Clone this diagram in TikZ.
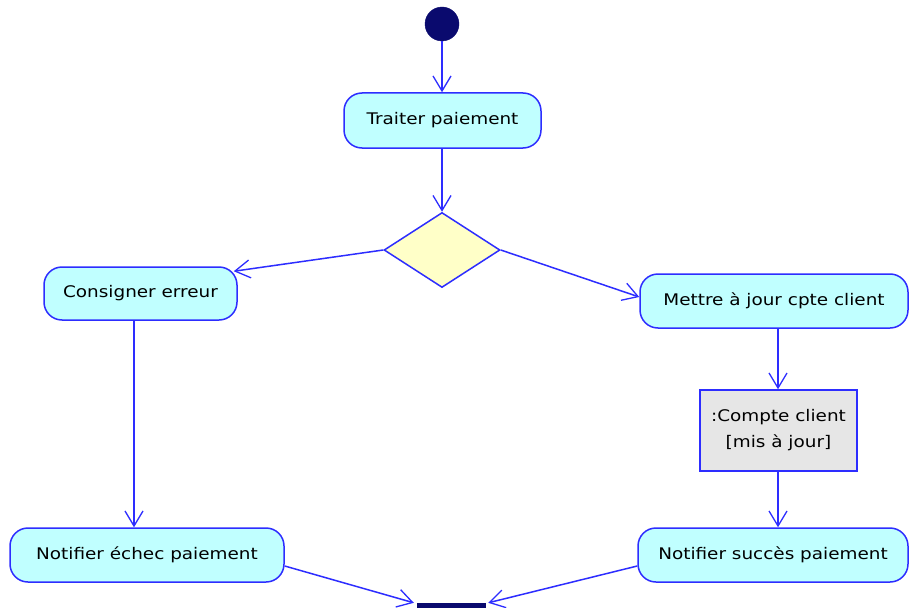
\documentclass[tikz,border=0pt]{standalone}
\usepackage{fontspec}
\setmainfont{DejaVu Sans}[FakeStretch=1.15]
\usetikzlibrary{shapes.geometric,arrows.meta}
\definecolor{lineblue}{RGB}{45,45,255}
\definecolor{cyanfill}{RGB}{192,255,255}
\definecolor{yellowfill}{RGB}{255,255,200}
\definecolor{grayfill}{RGB}{230,230,230}
\definecolor{navy}{RGB}{10,10,110}
\tikzset{
  activity/.style={draw=lineblue, fill=cyanfill, line width=1.5pt, rounded corners=18pt,
    inner sep=0pt, font=\fontsize{16}{19}\selectfont, text=black},
  objbox/.style={draw=lineblue, fill=grayfill, line width=1.5pt, inner sep=0pt,
    align=center, font=\fontsize{16}{19}\selectfont, text=black},
  decision/.style={diamond, draw=lineblue, fill=yellowfill, line width=1.5pt, inner sep=0pt,
    minimum width=116pt, minimum height=75pt},
  initial/.style={circle, fill=navy, draw=navy, inner sep=0pt, minimum size=34pt},
  joinbar/.style={fill=navy, draw=navy, inner sep=0pt, minimum width=68pt, minimum height=9pt},
  flow/.style={draw=lineblue, line width=1.5pt,
    -{Straight Barb[length=15pt,width=18pt,line width=1.3pt]}}
}
\begin{document}
\begin{tikzpicture}[x=1pt,y=-1pt]
\useasboundingbox (0,0) rectangle (909,607);
\clip (0,0) rectangle (909,607);
\fill[white] (0,0) rectangle (909,607);

\node[initial] (init) at (442,24) {};
\node[activity, minimum width=197pt, minimum height=55pt] (trait) at (442.5,120.5) {Traiter paiement};
\node[decision] (dia) at (442,250) {};
\node[activity, minimum width=193pt, minimum height=53pt] (cons) at (140.5,293.5) {Consigner erreur};
\node[activity, minimum width=268pt, minimum height=54pt] (mett) at (774,301) {Mettre à jour cpte client};
\node[objbox, minimum width=157pt, minimum height=81pt] (compte) at (778.5,430.5) {:Compte client\\[7pt][mis à jour]};
\node[activity, minimum width=274pt, minimum height=54pt] (ne) at (147,555) {Notifier échec paiement};
\node[activity, minimum width=270pt, minimum height=54pt] (ns) at (773,555) {Notifier succès paiement};
\node[joinbar] (bar) at (451,607.5) {};

\draw[flow] (init.south) -- (init.south |- trait.north);
\draw[flow] (trait.south -| dia.north) -- (dia.north);
\draw[flow] (dia.west) -- ([shift={(-4pt,-5pt)}]cons.north east);
\draw[flow] (dia.east) -- ([yshift=4pt]mett.west);
\draw[flow] ([xshift=-6.5pt]cons.south) -- ([xshift=-6.5pt]cons.south |- ne.north);
\draw[flow] ([xshift=4pt]mett.south) -- ([xshift=4pt]mett.south |- compte.north);
\draw[flow] ([xshift=-0.5pt]compte.south) -- ([xshift=-0.5pt]compte.south |- ns.north);
\draw[flow] ([yshift=-11pt]ne.east) -- ([xshift=-3pt]bar.north west);
\draw[flow] ([yshift=-11pt]ns.west) -- ([xshift=3pt]bar.north east);
\end{tikzpicture}
\end{document}
